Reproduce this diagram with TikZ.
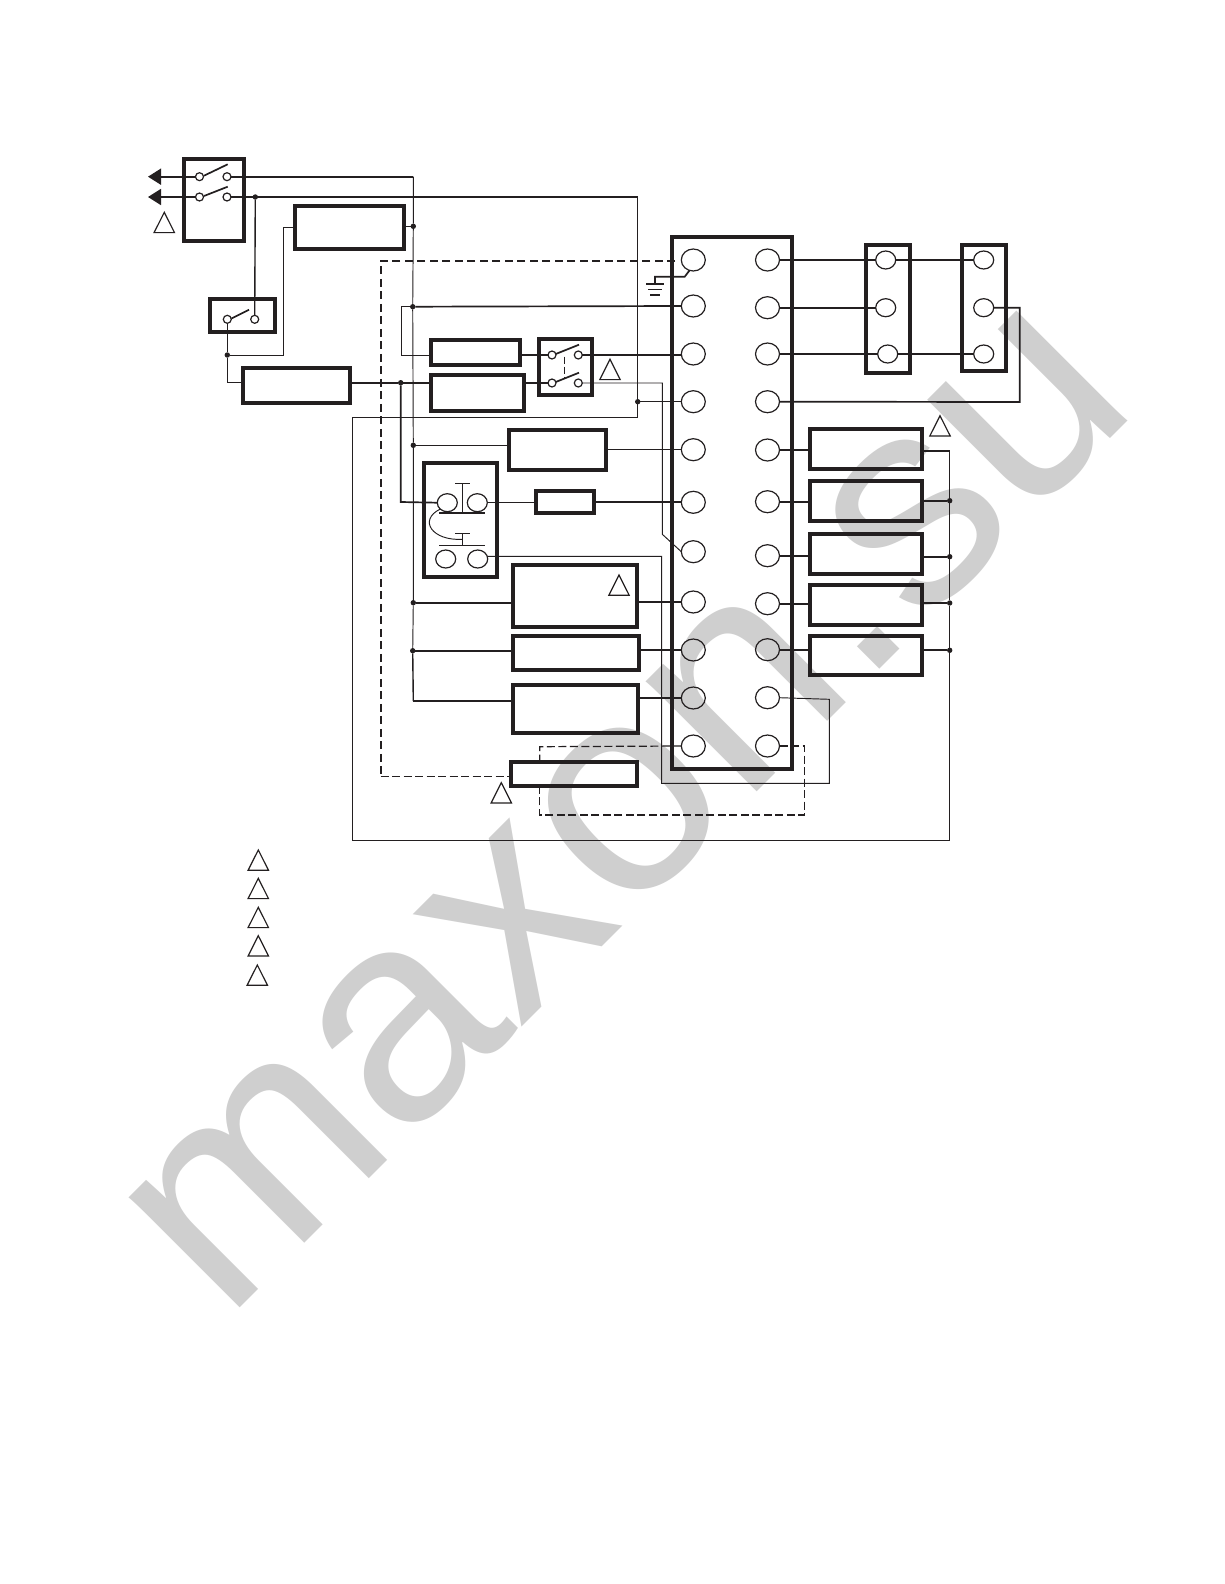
\documentclass[tikz,border=0pt]{standalone}
\usepackage{fontspec}
\setmainfont{Liberation Sans}
\newfontfamily\wmfont[FakeStretch=1.01]{Liberation Sans}
\usetikzlibrary{shapes.geometric,arrows.meta}
\tikzset{
  boxs/.style={draw=ink,rectangle,line width=4pt,inner sep=0pt,outer sep=0pt},
  term/.style={draw=ink,ellipse,line width=1.2pt,inner sep=0pt,outer sep=0pt,minimum width=24pt,minimum height=22pt},
  termm/.style={draw=ink,ellipse,line width=1.2pt,inner sep=0pt,outer sep=0pt,minimum width=20pt,minimum height=18pt},
  terms/.style={draw=ink,ellipse,line width=1.2pt,inner sep=0pt,outer sep=0pt,minimum width=8pt,minimum height=8pt},
  dotn/.style={fill=ink,circle,inner sep=0pt,outer sep=0pt,minimum size=5.4pt},
  thin wire/.style={draw=ink,line width=0.95pt},
  mid wire/.style={draw=ink,line width=1.7pt,line join=miter},
  note/.style={draw=ink,line width=1.2pt,line join=miter},
  mark wm/.style={text=wm,font=\wmfont\fontsize{296}{296}\selectfont,rotate=45,anchor=base west,inner sep=0pt}
}
\definecolor{ink}{HTML}{231F20}
\definecolor{wm}{HTML}{CFCFCF}
\newcommand{\bx}[5]{\node[boxs,minimum width={(#4-#2)*1pt},minimum height={(#5-#3)*1pt}] (#1) at ({(#2+#4)/2},{(#3+#5)/2}) {};}
\newcommand{\noteT}[2]{\draw[note] (#1,#2) -- ++(-10.2,20.3) -- ++(20.4,0) -- cycle;}
\begin{document}
\begin{tikzpicture}[x=1pt,y=-1pt]
\useasboundingbox (0,0) rectangle (1224,1584);
\fill[white] (0,0) rectangle (1224,1584);
% watermark
\node[mark wm] (wmark) at (225.7,1323) {maxon.su};

% boxes
\bx{A}{184}{159}{244}{241}
\bx{B}{210}{299}{275}{332}
\bx{C}{295}{206}{404}{249}
\bx{D}{242.5}{367.5}{350}{402.5}
\bx{E}{430.5}{340}{520}{365}
\bx{F}{430.5}{375}{524}{411}
\bx{G}{538.5}{339}{592}{394.5}
\bx{H}{508.5}{430}{606}{469.5}
\bx{J}{424}{463}{497}{576.5}
\bx{K}{536}{491}{594}{512.5}
\bx{L}{512.5}{564.5}{636.5}{626.5}
\bx{M}{512.5}{636}{639}{670}
\bx{N}{512.5}{684.5}{638}{733}
\bx{O}{511}{762}{636.5}{785.5}
\bx{P}{866}{245}{910}{372.5}
\bx{S}{962}{245}{1006}{370.5}
\bx{Main}{672}{237}{792}{768.7}
\bx{QA}{810}{429}{922}{468.5}
\bx{QB}{810}{481}{922}{520.5}
\bx{QC}{810}{534}{922}{573.5}
\bx{QD}{810}{585}{922}{624.5}
\bx{QE}{810}{635.5}{922}{674.5}

% main terminals
\foreach \n/\y in {1/260,2/306,3/354,4/401.7,5/449.7,6/502.3,7/551.7,8/602,9/650,10/698,11/746}
  \node[term] (T\n) at (693.3,\y) {};
\foreach \n/\y in {1/260,2/307.7,3/354,4/401.7,5/450,6/501.7,7/555.7,8/603.7,9/649.7,10/697.7,11/746}
  \node[term] (R\n) at (767.5,\y) {};
% block terminals
\node[termm] (Pa) at (885.7,260) {};
\node[termm] (Pb) at (885.7,307.7) {};
\node[termm] (Pc) at (887.7,354) {};
\node[termm] (Sa) at (983.7,260) {};
\node[termm] (Sb) at (983.7,307.7) {};
\node[termm] (Sc) at (983.7,354) {};
\node[termm] (Ja) at (447.3,502.7) {};
\node[termm] (Jb) at (477.3,502.7) {};
\node[termm] (Jc) at (445.7,559) {};
\node[termm] (Jd) at (477.7,559) {};
% switch terminals
\node[terms] (Aa) at (199.5,176.7) {};
\node[terms] (Ab) at (227,176.7) {};
\node[terms] (Ac) at (199.5,197) {};
\node[terms] (Ad) at (227,197) {};
\node[terms] (Ba) at (227.3,319.3) {};
\node[terms] (Bb) at (254.7,319.3) {};
\node[terms] (Ga) at (552,355) {};
\node[terms] (Gb) at (578.3,355) {};
\node[terms] (Gc) at (552,383) {};
\node[terms] (Gd) at (578.3,383) {};
% junction dots
\node[dotn] (d1) at (255.3,197) {};
\node[dotn] (d2) at (413.3,226.3) {};
\node[dotn] (d3) at (412.7,306.7) {};
\node[dotn] (d4) at (227.3,355) {};
\node[dotn] (d5) at (400.7,382.7) {};
\node[dotn] (d6) at (637.7,401.7) {};
\node[dotn] (d7) at (413.3,445.3) {};
\node[dotn] (d8) at (413.3,602.7) {};
\node[dotn] (d9) at (412.7,650.7) {};
\node[dotn] (q2) at (949.7,500.7) {};
\node[dotn] (q3) at (949.7,556.7) {};
\node[dotn] (q4) at (949.7,603) {};
\node[dotn] (q5) at (949.7,650.3) {};
% free ends
\coordinate (arA) at (148,176.7);
\coordinate (arB) at (148,197);
\coordinate (dashEnd) at (675,260.7);

% contact blades
\draw[mid wire] (204,175.7) -- (227.7,164.3);
\draw[mid wire] (204,196) -- (227.7,186.7);
\draw[mid wire] (231.5,318.5) -- (249,309.7);
\draw[mid wire] (555.7,354) -- (579,344.7);
\draw[mid wire] (555.7,382) -- (579,372.7);
\draw[thin wire,dash pattern=on 7pt off 3pt] (564.3,356.7) -- (564.3,378);

% push buttons
\draw[thin wire] (455,483.3) -- (470,483.3) (462.3,483.3) -- (462.3,512.7);
\draw[mid wire] (439,512.7) -- (485,512.7);
\draw[thin wire] (455,533.3) -- (470,533.3) (462.3,533.3) -- (462.3,545) (439,545) -- (485,545);
\draw[thin wire] (Ja.south west) .. controls (418,520) and (432,541) .. (462.3,539.3);

% feed wires
\draw[mid wire,-{Triangle[length=13pt,width=16pt]}] (Aa.west) -- (arA);
\draw[mid wire,-{Triangle[length=13pt,width=16pt]}] (Ac.west) -- (arB);
\draw[mid wire] (Ab.east) -- (413.3,176.7);
\draw[thin wire] (413.3,176.7) -- (d2) -- (d3) -- (d7) -- (d8) -- (d9);
\draw[mid wire] (Ad.east) -- (637.7,197);
\draw[thin wire] (637.7,197) -- (d6) -- (637.7,417.3) -- (352,417.3) -- (352,840) -- (949.7,840) -- (q5) -- (q4) -- (q3) -- (q2) -- (949.7,450.7);
\draw[mid wire] (949.7,450.7) -- (QA.east |- 0,450.7);
\draw[line width=1.4pt,draw=ink] (d1) -- (Bb.north);
\draw[line width=1.4pt,draw=ink] (Ba.south) -- (d4);
\draw[line width=1.4pt,draw=ink] (d4) -- (227.3,382.7) -- (D.west |- 0,382.7);
\draw[thin wire] (d4) -- (283.3,355) -- (283.3,227.3) -- (C.west |- 0,227.3);
\draw[thin wire] (C.east |- d2) -- (d2);
\draw[mid wire] (D.east |- d5) -- (d5) -- (F.west |- d5);
\draw[mid wire] (d5) -- (400.7,502) -- (Ja.west);
\draw[mid wire] (T2.west) -- (d3);
\draw[thin wire] (d3) -- (401.7,306.7) -- (401.7,355) -- (E.west |- 0,355);
\draw[mid wire] (E.east |- Ga) -- (Ga.west);
\draw[mid wire] (Gb.east) -- (T3.west |- Gb) -- (T3.west);
\draw[mid wire] (F.east |- Gc) -- (Gc.west);
\draw[thin wire] (Gd.east) -- (662.3,383) -- (662.3,534.3) -- (T7.west);
\draw[thin wire] (d6) -- (T4.west);
\draw[thin wire] (d7) -- (H.west |- d7);
\draw[thin wire] (H.east |- T5) -- (T5.west);
\draw[thin wire] (Jb.east) -- (K.west |- Jb);
\draw[mid wire] (K.east |- T6) -- (T6.west);
\draw[thin wire] (Jd.15) -| (661.7,783.3) -- (829.3,783.3) -- (829.3,699.3) -- (R10.east);
\draw[mid wire] (d8) -- (L.west |- d8);
\draw[mid wire] (L.east |- T8) -- (T8.west);
\draw[mid wire] (d9) -- (M.west |- d9);
\draw[mid wire] (M.east |- T9) -- (T9.west);
\draw[line width=1.4pt,draw=ink] (d9) -- (413.3,701);
\draw[mid wire] (413.3,701) -- (N.west |- 0,701);
\draw[mid wire] (N.east |- T10) -- (T10.west);

% right side
\draw[mid wire] (R1.east) -- (Pa.west);
\draw[mid wire] (Pa.east) -- (Sa.west);
\draw[mid wire] (R2.east) -- (Pb.west);
\draw[mid wire] (R3.east) -- (Pc.west);
\draw[mid wire] (Pc.east) -- (Sc.west);
\draw[mid wire] (Sb.east) -- (1019.7,307.7) -- (1019.7,402) -- (R4.east);
\draw[mid wire] (R5.east) -- (QA.west |- R5);
\draw[mid wire] (R6.east) -- (QB.west |- R6);
\draw[mid wire] (R7.east) -- (QC.west |- R7);
\draw[mid wire] (R8.east) -- (QD.west |- R8);
\draw[mid wire] (R9.east) -- (QE.west |- R9);
\draw[mid wire] (QB.east |- q2) -- (q2);
\draw[mid wire] (QC.east |- q3) -- (q3);
\draw[mid wire] (QD.east |- q4) -- (q4);
\draw[mid wire] (QE.east |- q5) -- (q5);

% dashed wires
\draw[draw=ink,line width=1.8pt,dash pattern=on 8pt off 4.5pt] (dashEnd) -- (380.7,260.7) -- (380.7,776.3);
\draw[draw=ink,line width=1pt,dash pattern=on 8pt off 3.5pt] (380.7,776.3) -- (O.west |- 0,776.3);
\draw[draw=ink,line width=1.2pt,dash pattern=on 8pt off 3.5pt] (T11.west) -- (539.7,746.7) -- (539.7,762);
\draw[draw=ink,line width=1.2pt,dash pattern=on 8pt off 3.5pt] (R11.east) -- (804.3,746) -- (804.3,815) -- (539.7,815) -- (539.7,785.5);

% ground
\draw[mid wire] (T1.-110) -- (684.7,276.7) -- (655,276.7) -- (655,284.3);
\draw[mid wire] (646,284.3) -- (664,284.3);
\draw[mid wire] (648.3,289.5) -- (661.7,289.5);
\draw[mid wire] (650,294.7) -- (660,294.7);

% note triangles
\noteT{164.3}{212.3}
\noteT{610}{359.3}
\noteT{619}{575}
\noteT{501.3}{782.7}
\noteT{940}{415.7}
\noteT{258.3}{850}
\noteT{258.3}{878.3}
\noteT{258.3}{907.3}
\noteT{258.3}{935.7}
\noteT{257.3}{965}
\end{tikzpicture}
\end{document}
